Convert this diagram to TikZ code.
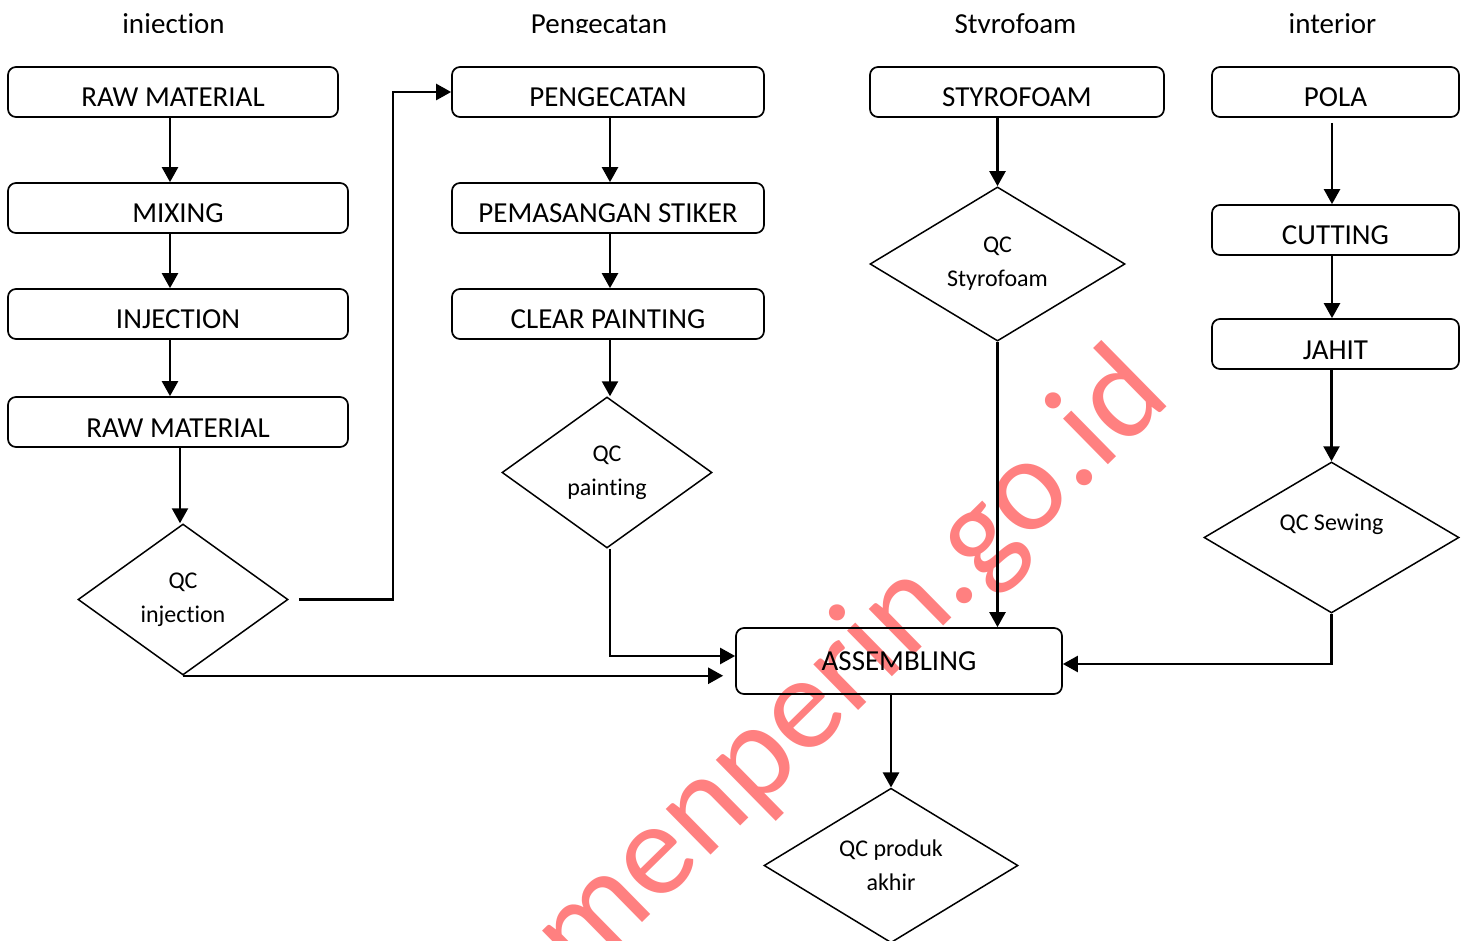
\documentclass[tikz,border=0pt]{standalone}
\usepackage{fontspec}
\setmainfont{Carlito}[Ligatures=CommonOff]
\usetikzlibrary{arrows.meta,shapes.geometric}
\definecolor{wmred}{RGB}{255,128,128}

\begin{document}
\begin{tikzpicture}[x=1pt,y=-1pt,
  proc/.style={draw,line width=1.7pt,rounded corners=8pt,minimum height=50pt,inner sep=0pt,
    font=\fontsize{29}{34}\selectfont,text height=30pt,text depth=0pt},
  qc/.style={draw,diamond,line width=1.5pt,inner sep=0pt,align=center,
    font=\fontsize{24}{34}\selectfont},
  head/.style={anchor=base,font=\fontsize{29}{34}\selectfont},
  flow/.style={line width=2.4pt,-{Triangle[length=15pt,width=16pt]}}]
  \useasboundingbox (0,0) rectangle (1467,941);

  % Watermark
  \node[anchor=base west,rotate=44.5,text=wmred,font=\fontsize{134}{134}\selectfont,inner sep=0pt]
    (mark) at (492,1070) {kemenperin.go.id};

  % Column titles (cut at the bottom)
  \begin{scope}
    \clip (0,0) rectangle (1467,33);
    \node[head] (t1) at (173.5,34) {injection};
    \node[head] (t2) at (599,34) {Pengecatan};
    \node[head] (t3) at (1015.5,34) {Styrofoam};
    \node[head] (t4) at (1332.5,34) {interior};
  \end{scope}

  % injection
  \node[proc,minimum width=330pt] (raw) at (173,92) {RAW MATERIAL};
  \node[proc,minimum width=340pt] (mix) at (178,208) {MIXING};
  \node[proc,minimum width=340pt] (inj) at (178,314) {INJECTION};
  \node[proc,minimum width=340pt] (raw2) at (178,422) {RAW MATERIAL};
  \node[qc,minimum width=210pt,minimum height=151pt] (qcinj) at (183,599.5) {QC\\injection};

  % Pengecatan
  \node[proc,minimum width=312pt] (cat) at (608,92) {PENGECATAN};
  \node[proc,minimum width=312pt] (stiker) at (608,208) {PEMASANGAN STIKER};
  \node[proc,minimum width=312pt] (clear) at (608,314) {CLEAR PAINTING};
  \node[qc,minimum width=210pt,minimum height=151pt] (qcpaint) at (607,472.5) {QC\\painting};

  % Styrofoam
  \node[proc,minimum width=294pt] (styro) at (1017,92) {STYROFOAM};
  \node[qc,minimum width=255pt,minimum height=152pt] (qcstyro) at (997.5,264) {QC\\Styrofoam};

  % interior
  \node[proc,minimum width=247pt] (pola) at (1335.5,92) {POLA};
  \node[proc,minimum width=247pt] (cut) at (1335.5,230) {CUTTING};
  \node[proc,minimum width=247pt] (jahit) at (1335.5,344) {JAHIT};
  \node[qc,minimum width=255pt,minimum height=151pt,text depth=30pt] (qcsew) at (1331.5,537.5) {QC Sewing};

  % Assembling and final QC
  \node[proc,minimum width=326pt,minimum height=66pt,text height=19pt] (asm) at (899,661) {ASSEMBLING};
  \node[qc,minimum width=254pt,minimum height=151pt] (qcakhir) at (891,865.5) {QC produk\\akhir};

  % Arrows
  \foreach \a/\b in {raw/mix,mix/inj,inj/raw2}
    \draw[flow] ([xshift=-3pt]raw.south |- \a.south) -- ([xshift=-3pt]raw.south |- \b.north);
  \draw[flow] ([xshift=2pt]raw2.south) -- ([xshift=-3pt]qcinj.north);
  \draw[flow] ([xshift=10pt]qcinj.east) -- ++(94,0) |- (cat.west);
  \draw[flow] (qcinj.south) -- ([xshift=-12pt]qcinj.south -| asm.west);

  \foreach \a/\b in {cat/stiker,stiker/clear,clear/qcpaint}
    \draw[flow] ([xshift=2pt]\a.south) -- ([xshift=2pt]\a.south |- \b.north);
  \draw[flow] ([xshift=3pt]qcpaint.south) |- ([yshift=5pt]asm.west);

  \draw[flow] (qcstyro.north |- styro.south) -- (qcstyro.north);
  \draw[flow] (qcstyro.south) -- (qcstyro.south |- asm.north);

  \draw[flow] ([xshift=-3.5pt,yshift=-5pt]pola.south) -- ([xshift=-3.5pt]cut.north);
  \draw[flow] ([xshift=-3.5pt]cut.south) -- ([xshift=-3.5pt]jahit.north);
  \draw[flow] (qcsew.north |- jahit.south) -- (qcsew.north);
  \draw[flow] (qcsew.south) |- ([yshift=-3pt]asm.east);

  \draw[flow] (qcakhir.north |- asm.south) -- (qcakhir.north);
\end{tikzpicture}
\end{document}
